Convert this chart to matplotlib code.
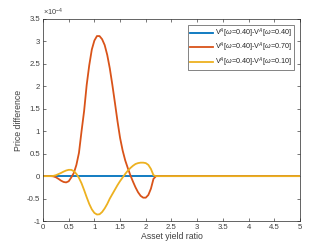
import numpy as np
import matplotlib.pyplot as plt

plt.rcParams['font.family'] = ['Liberation Sans', 'DejaVu Sans']
plt.rcParams['mathtext.fontset'] = 'custom'
plt.rcParams['mathtext.rm'] = 'Liberation Sans'
plt.rcParams['mathtext.it'] = 'Liberation Sans:italic'

# asset yield ratio (x) and price differences in units of 1e-4
x = [0.00, 0.05, 0.10, 0.15, 0.20, 0.25, 0.30, 0.35, 0.40, 0.45,
     0.50, 0.55, 0.60, 0.65, 0.70, 0.75, 0.80, 0.85, 0.90, 0.95,
     1.00, 1.05, 1.10, 1.15, 1.20, 1.25, 1.30, 1.35, 1.40, 1.45,
     1.50, 1.55, 1.60, 1.65, 1.70, 1.75, 1.80, 1.85, 1.90, 1.95,
     2.00, 2.05, 2.10, 2.15, 2.20, 5.00]
diff_040 = [0.0] * len(x)
diff_070 = [0, 0, 0, 0, -0.005, -0.025, -0.06, -0.10, -0.13, -0.14,
            -0.115, -0.03, 0.07, 0.25, 0.52, 1.0, 1.45, 2.03, 2.47, 2.82,
            3.02, 3.12, 3.12, 3.05, 2.92, 2.7, 2.4, 2.03, 1.63, 1.22,
            0.85, 0.57, 0.35, 0.18, 0.02, -0.12, -0.25, -0.36, -0.44, -0.48,
            -0.48, -0.42, -0.28, -0.06, 0, 0]
diff_010 = [0, 0, 0, 0, 0.005, 0.02, 0.045, 0.07, 0.10, 0.125,
            0.14, 0.14, 0.11, 0.05, -0.04, -0.16, -0.31, -0.47, -0.62, -0.74,
            -0.82, -0.855, -0.85, -0.8, -0.72, -0.62, -0.5, -0.4, -0.3, -0.2,
            -0.11, -0.03, 0.05, 0.12, 0.18, 0.23, 0.27, 0.29, 0.30, 0.30,
            0.29, 0.25, 0.16, 0.02, 0, 0]

labels = [r'V$^A$[$\omega$=0.40]-V$^A$[$\omega$=0.40]',
          r'V$^A$[$\omega$=0.40]-V$^A$[$\omega$=0.70]',
          r'V$^A$[$\omega$=0.40]-V$^A$[$\omega$=0.10]']
colors = ['#0072BD', '#D95319', '#EDB120']
txt = '#404040'

fig = plt.figure(figsize=(3.32, 2.49), dpi=100)
ax = fig.add_axes([0.1295, 0.1124, 0.774, 0.8113])

for y, lab, c in zip([diff_040, diff_070, diff_010], labels, colors):
    ax.plot(x, y, color=c, lw=1.3, label=lab)

ax.set_xlim(0, 5)
ax.set_ylim(-1, 3.5)
ax.set_xticks(np.arange(0, 5.01, 0.5))
ax.set_yticks(np.arange(-1, 3.51, 0.5))
ax.xaxis.set_major_formatter(plt.FuncFormatter(lambda v, p: '%g' % v))
ax.yaxis.set_major_formatter(plt.FuncFormatter(lambda v, p: '%g' % v))
ax.tick_params(direction='in', length=2, width=0.5, labelsize=5.6,
               colors=txt, top=True, right=True, pad=2)
for s in ax.spines.values():
    s.set_linewidth(0.5)
    s.set_color('#262626')

ax.set_xlabel('Asset yield ratio', fontsize=6.3, color=txt, labelpad=1)
ax.set_ylabel('Price difference', fontsize=6.3, color=txt, labelpad=3)
ax.text(0.0, 1.005, r'$\times$10$^{-4}$', transform=ax.transAxes,
        fontsize=5.3, color=txt, va='bottom', ha='left')

leg = ax.legend(loc='upper right', fontsize=5.2, handlelength=3.2,
                borderaxespad=0.8, fancybox=False, labelspacing=0.15,
                handletextpad=0.3, borderpad=0.25)
leg.get_frame().set_edgecolor('#262626')
leg.get_frame().set_linewidth(0.5)
for t in leg.get_texts():
    t.set_color('#262626')

fig.savefig('out.png', dpi=100)
